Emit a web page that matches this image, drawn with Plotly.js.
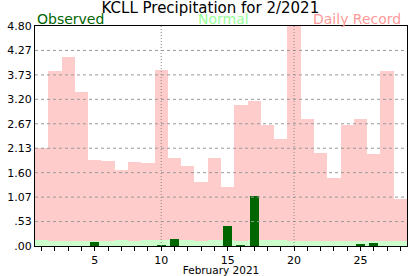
<!DOCTYPE html>
<html>
<head>
<meta charset="utf-8">
<script src="https://cdn.plot.ly/plotly-3.0.1.min.js"></script>
<style>html,body{margin:0;padding:0;background:#fff;}#chart{width:417px;height:276px;}</style>
</head>
<body>
<div id="chart"></div>
<script>
// Data
const days = [1,2,3,4,5,6,7,8,9,10,11,12,13,14,15,16,17,18,19,20,21,22,23,24,25,26,27,28];
const dailyRecord = [2.13,3.82,4.12,3.36,1.88,1.85,1.66,1.83,1.81,3.84,1.93,1.75,1.40,1.93,1.29,3.08,3.16,2.64,2.33,4.80,2.77,2.03,1.49,2.64,2.77,2.01,3.82,1.03];
const normal = [0.14,0.11,0.11,0.11,0.11,0.11,0.14,0.12,0.14,0.14,0.14,0.14,0.12,0.14,0.14,0.12,0.14,0.14,0.14,0.12,0.12,0.12,0.12,0.12,0.12,0.12,0.12,0.12];
const observed = [0,0,0,0,0.09,0,0,0,0,0.02,0.15,0,0,0,0.44,0.02,1.09,0,0,0,0,0,0,0,0.05,0.07,0,0];
const yTickVals = [0,0.5333,1.0667,1.6,2.1333,2.6667,3.2,3.7333,4.2667,4.8];
const yTickText = ['.00','.53','1.07','1.60','2.13','2.67','3.20','3.73','4.27','4.80'];
const xLabelDays = [5,10,15,20,25];
const xGridDays = [10,20];

const traces = [
  {type:'bar', x:days, y:dailyRecord, width:1, marker:{color:'#ffcccc', line:{width:0}}, hoverinfo:'skip'},
  {type:'bar', x:days, y:normal, width:1, marker:{color:'#ccffcc', line:{width:0}}, hoverinfo:'skip'},
  {type:'bar', x:days, y:observed, width:0.68, marker:{color:'#006600', line:{width:0}}, hoverinfo:'skip'}
];

const shapes = [];
yTickVals.slice(1, -1).forEach(v => shapes.push({
  type:'line', xref:'paper', x0:0, x1:1, yref:'y', y0:v, y1:v, layer:'above',
  line:{color:'#999999', width:1, dash:'3px,3px'}
}));
xGridDays.forEach(d => shapes.push({
  type:'line', xref:'x', x0:d, x1:d, yref:'paper', y0:0, y1:1, layer:'above',
  line:{color:'#888888', width:1, dash:'1px,2px'}
}));

const font = 'DejaVu Sans, Verdana, sans-serif';
const layout = {
  width:417, height:276,
  margin:{l:35, r:10, t:26, b:30, pad:0},
  paper_bgcolor:'#ffffff', plot_bgcolor:'#ffffff',
  showlegend:false, barmode:'overlay', bargap:0,
  font:{family:font, size:11, color:'#000'},
  title:{text:'KCLL Precipitation for 2/2021', font:{family:font, size:15, color:'#000'},
         xref:'paper', x:0.4715, xanchor:'center', yref:'container', y:0.973, yanchor:'middle'},
  xaxis:{range:[0.5,28.5], tickmode:'array', tickvals:days,
         ticktext:days.map(d => xLabelDays.includes(d) ? String(d) : ''),
         ticks:'outside', ticklen:4, tickwidth:1, tickcolor:'#000',
         showgrid:false, zeroline:false, showline:true, linecolor:'#000', linewidth:1, mirror:true,
         tickfont:{family:font, size:11, color:'#000'},
         title:{text:'February 2021', font:{family:font, size:10.5, color:'#000'}, standoff:0}},
  yaxis:{range:[0,4.8], tickmode:'array', tickvals:yTickVals, ticktext:yTickText,
         ticks:'', showgrid:false, zeroline:false, showline:true, linecolor:'#000', linewidth:1, mirror:true,
         tickfont:{family:font, size:11, color:'#000'}},
  shapes:shapes,
  annotations:[
    {text:'Observed', xref:'paper', yref:'paper', x:0, xanchor:'left', y:1.03, yanchor:'middle', showarrow:false, font:{family:font, size:14, color:'#006600'}},
    {text:'Normal', xref:'paper', yref:'paper', x:0.508, xanchor:'center', y:1.03, yanchor:'middle', showarrow:false, font:{family:font, size:14, color:'#99ff99'}},
    {text:'Daily Record', xref:'paper', yref:'paper', x:0.99, xanchor:'right', y:1.03, yanchor:'middle', showarrow:false, font:{family:font, size:14, color:'#ff9999'}}
  ]
};

Plotly.newPlot('chart', traces, layout, {displayModeBar:false, staticPlot:true});
</script>
</body>
</html>
